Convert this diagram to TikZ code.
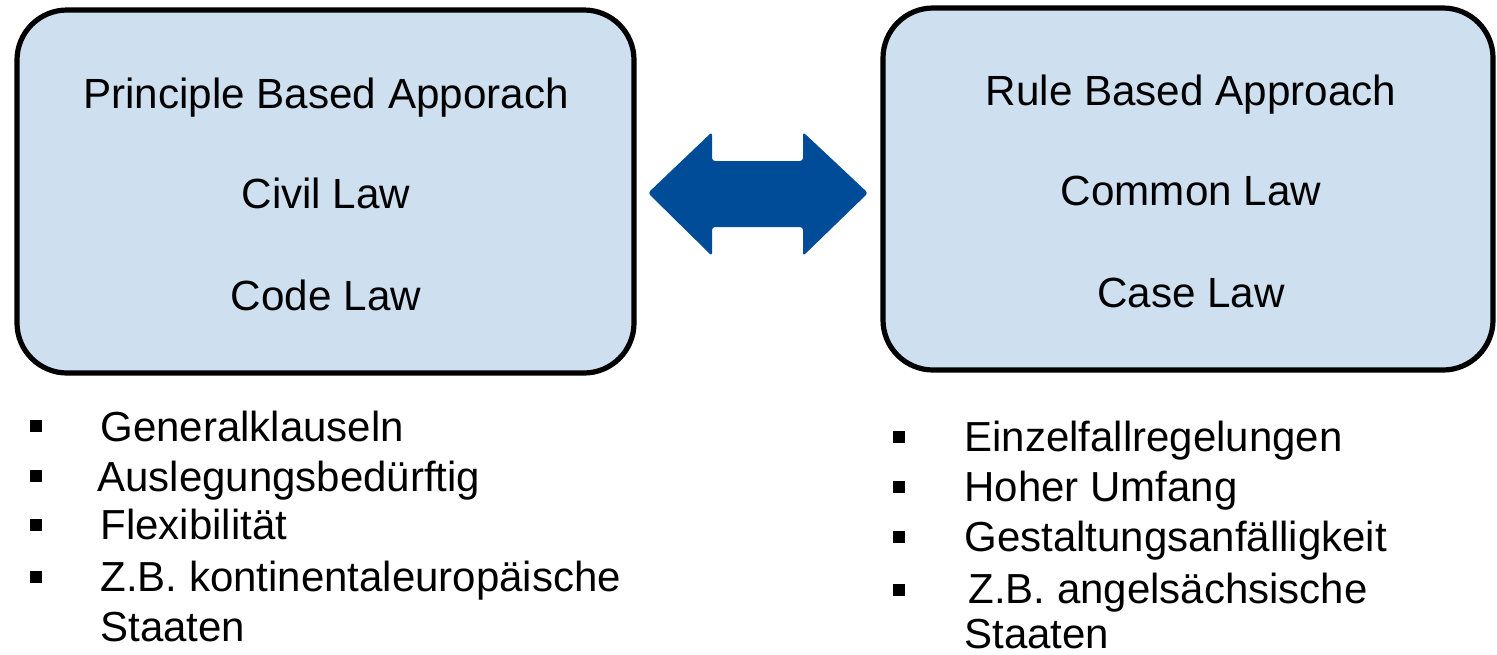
\documentclass[tikz,border=0pt]{standalone}
\usepackage{fontspec}
\setmainfont{Liberation Sans}
\definecolor{boxfill}{RGB}{206,224,240}
\definecolor{arrowblue}{RGB}{0,76,153}
\begin{document}
\begin{tikzpicture}[x=0.5pt,y=-0.5pt,
  lawbox/.style={draw=black,line width=2.6pt,fill=boxfill,rounded corners=25pt},
  boxtext/.style={anchor=base,inner sep=0pt,font=\fontsize{21.1}{25}\selectfont},
  itemtext/.style={anchor=base west,inner sep=0pt,font=\fontsize{21}{25}\selectfont},
  bul/.style={fill=black,draw=none,minimum size=6pt,inner sep=0pt,rectangle}]
\useasboundingbox (0,0) rectangle (1497,654);
% boxes
\draw[lawbox] (17,10) rectangle (634,373);
\draw[lawbox] (883,8) rectangle (1493,370);
% box texts
\node[boxtext] (l1) at (326,108) {Principle Based Apporach};
\node[boxtext] (l2) at (326,208) {Civil Law};
\node[boxtext] (l3) at (326,310) {Code Law};
\node[boxtext] (r1) at (1191,105) {Rule Based Approach};
\node[boxtext] (r2) at (1191,205) {Common Law};
\node[boxtext] (r3) at (1191,307) {Case Law};
% double arrow
\fill[arrowblue,rounded corners=1.5pt] (648,193) -- (712,132) -- (712,161) -- (803,161) -- (803,132)
  -- (868,193) -- (803,256) -- (803,227) -- (712,227) -- (712,256) -- cycle;
% left bullets
\node[bul] (lb1) at (36,426) {};
\node[bul] (lb2) at (36,476) {};
\node[bul] (lb3) at (36,525) {};
\node[bul] (lb4) at (36,577) {};
\node[itemtext] (lt1) at (100,441) {Generalklauseln};
\node[itemtext] (lt2) at (97,491) {Auslegungsbedürftig};
\node[itemtext] (lt3) at (100,539) {Flexibilität};
\node[itemtext] (lt4) at (100,591) {Z.B. kontinentaleuropäische};
\node[itemtext] (lt5) at (100,641) {Staaten};
% right bullets
\node[bul] (rb1) at (899,437) {};
\node[bul] (rb2) at (899,487) {};
\node[bul] (rb3) at (899,537) {};
\node[bul] (rb4) at (899,590) {};
\node[itemtext] (rt1) at (964,451) {Einzelfallregelungen};
\node[itemtext] (rt2) at (964,501) {Hoher Umfang};
\node[itemtext] (rt3) at (964,551) {Gestaltungsanfälligkeit};
\node[itemtext] (rt4) at (968,603) {Z.B. angelsächsische};
\node[itemtext] (rt5) at (964,648) {Staaten};
\end{tikzpicture}
\end{document}
